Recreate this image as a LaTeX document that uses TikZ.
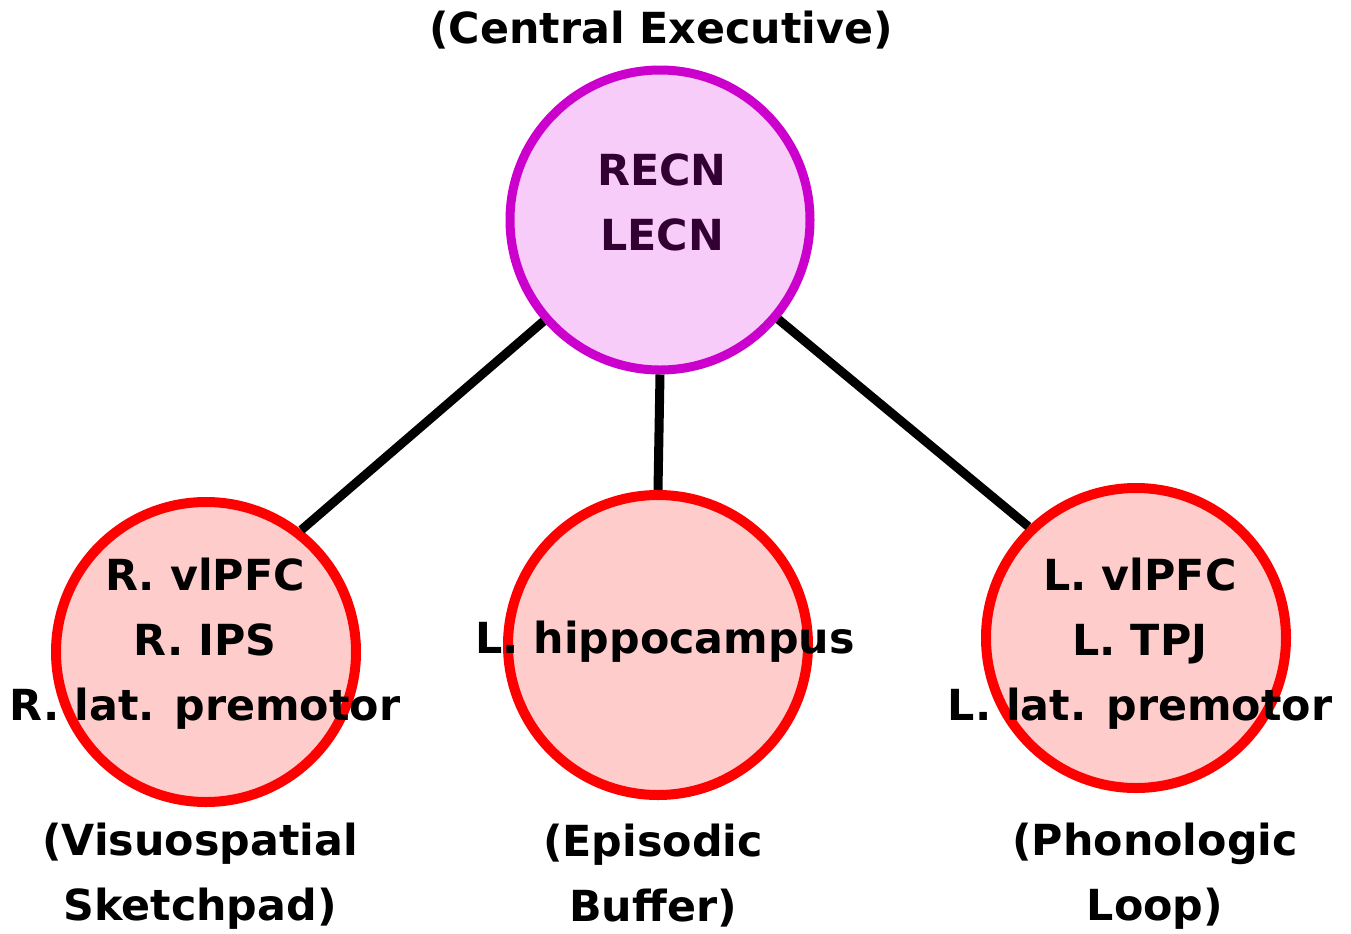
\documentclass[tikz,border=0pt]{standalone}
\usepackage{fontspec}
\setmainfont{DejaVu Sans}
\definecolor{hubline}{HTML}{CC00CC}
\definecolor{hubfill}{HTML}{F8CCF8}
\definecolor{hubtext}{HTML}{330033}
\definecolor{storeline}{HTML}{FF0000}
\definecolor{storefill}{HTML}{FFCCCC}
\begin{document}
\begin{tikzpicture}[x=0.5pt, y=-0.5pt,
	every node/.style={font=\bfseries\fontsize{21.4}{32.5}\selectfont, align=center},
	hub/.style={draw=hubline, fill=hubfill, circle, line width=4.5pt, minimum size=150pt, inner sep=0pt},
	store/.style={draw=storeline, fill=storefill, circle, line width=5pt, minimum size=150pt, inner sep=0pt},
	link/.style={line width=4.5pt}]
	\useasboundingbox (0, 0) rectangle (1351, 933);

	\node[hub] at (660, 220) (CE) {};
	\node[store] at (206, 652) (VS) {};
	\node[store] at (658, 645) (EB) {};
	\node[store] at (1136, 638) (PL) {};

	\draw[link] (CE.221) -- (VS.52);
	\draw[link] (CE.south) -- (EB.north);
	\draw[link] (CE.320) -- (PL.134);

	\node[text=hubtext] at (662, 202) (CEtext) {RECN\\LECN};
	\node at (205, 644) (VStext) {R. vlPFC\\R. IPS\\R. lat. premotor};
	\node at (665, 642) (EBtext) {L. hippocampus};
	\node at (1140, 644) (PLtext) {L. vlPFC\\L. TPJ\\L. lat. premotor};

	\node at (661, 30) (CElabel) {(Central Executive)};
	\node at (200, 876) (VSlabel) {(Visuospatial\\Sketchpad)};
	\node at (653, 876) (EBlabel) {(Episodic\\Buffer)};
	\node at (1155, 876) (PLlabel) {(Phonologic\\Loop)};
\end{tikzpicture}
\end{document}
